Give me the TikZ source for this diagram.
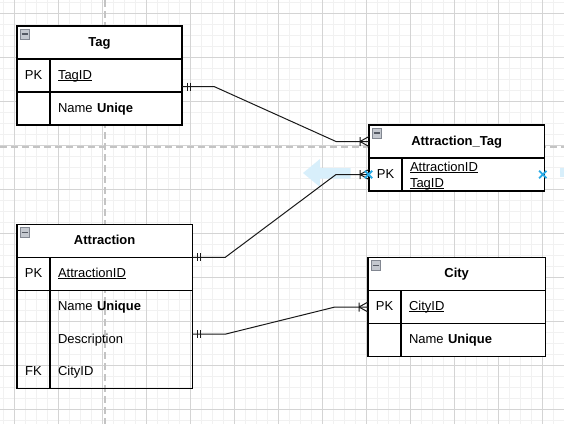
\documentclass[tikz,border=0pt]{standalone}
\usepackage{fontspec}
\setmainfont{Liberation Sans}
\newcommand\fs{\fontsize{13}{16}\selectfont}
\newcommand\uln[1]{\leavevmode\setbox0=\hbox{#1}\rlap{\rule[-1.8pt]{\wd0}{0.85pt}}\box0}
\definecolor{minorgrid}{RGB}{241,241,241}
\definecolor{majorgrid}{RGB}{212,212,212}
\definecolor{pagebreak}{RGB}{196,196,196}
\definecolor{hoverblue}{RGB}{41,170,230}
\definecolor{hoverlight}{RGB}{216,239,251}
\definecolor{iconfill}{RGB}{196,200,207}
\definecolor{iconedge}{RGB}{130,135,145}
\definecolor{icondash}{RGB}{85,90,100}
\tikzset{
  base/.style={inner sep=0pt, outer sep=0pt, anchor=north west, minimum height=33pt,
    text height=9pt, text depth=2pt, font=\fs},
  tbox/.style={base, draw=black, line width=1.2pt, fill=white},
  titlebox/.style={tbox, font=\fs\bfseries, minimum width=#1},
  keybox/.style={tbox, minimum width=33pt},
  fieldbox/.style={tbox, inner xsep=8pt, text width=#1, align=left},
  fieldtext/.style={base, inner xsep=8pt, text width=#1, align=left},
  keytext/.style={base, minimum width=33pt},
  rel/.style={draw=black!90, line width=1pt},
  minorline/.style={draw=minorgrid, line width=1pt},
  majorline/.style={draw=majorgrid, line width=1pt},
  breakline/.style={draw=pagebreak, line width=2.2pt, dash pattern=on 7pt off 4pt},
  one/.pic={\draw[rel] (5,-4)--(5,4) (8,-4)--(8,4);},
  many/.pic={\draw[rel] (-9,-4.5)--(-9,4.5) (-9,0)--(0,-5) (-9,0)--(0,5);},
  collapse/.pic={\draw[draw=iconedge, fill=iconfill, line width=0.6pt] (0,0) rectangle (9.5,10);
    \draw[draw=icondash, line width=1.6pt] (1.5,5)--(8,5);},
  hovercross/.pic={\draw[draw=hoverblue, line width=1.8pt] (-3.7,-3.7)--(3.7,3.7) (-3.7,3.7)--(3.7,-3.7);}
}
\begin{document}
\begin{tikzpicture}[x=1pt,y=-1pt]
\useasboundingbox (0,0) rectangle (564,424);
\fill[white] (0,0) rectangle (564,424);
% grid
\foreach \x in {3,14,...,563} \draw[minorline] (\x,0) -- (\x,424);
\foreach \y in {2,13,...,423} \draw[minorline] (0,\y) -- (564,\y);
\foreach \x in {14,58,...,542} \draw[majorline] (\x,0) -- (\x,424);
\foreach \y in {13,57,...,409} \draw[majorline] (0,\y) -- (564,\y);
\draw[breakline] (105,0) -- (105,424);
\draw[breakline] (0,147) -- (564,147);

% Tag
\node[titlebox=165pt] (tag) at (17,26) {Tag};
\node[keybox] (tagpkkey) at (17,59) {PK};
\node[fieldbox=116pt] (tagid) at (50,59) {\uln{TagID}};
\node[keybox] (tagnamekey) at (17,92) {};
\node[fieldbox=116pt] (tagname) at (50,92) {Name \textbf{Uniqe}};
\pic at ([xshift=3pt,yshift=-3pt]tag.north west) {collapse};

% Attraction_Tag
\node[titlebox=175.3pt] (attag) at (369,125) {Attraction\_Tag};
\node[keybox] (atpkkey) at (369,158) {PK};
\node[fieldbox=126.3pt, text depth=15.3pt] (atpk) at (402,158) {\uln{AttractionID}\\\uln{TagID}};
\pic at ([xshift=3pt,yshift=-3pt]attag.north west) {collapse};

% Attraction
\node[titlebox=175.3pt] (attr) at (17,224.3) {Attraction};
\node[keybox, minimum height=33.2pt] (attrpkkey) at (17,257.3) {PK};
\node[fieldbox=126.3pt, minimum height=33.2pt] (attrpk) at (50,257.3) {\uln{AttractionID}};
\node[keybox, fill=none, minimum height=98pt] (attrkeys) at (17,290.5) {};
\node[fieldbox=126.3pt, fill=none, minimum height=98pt] (attrfields) at (50,290.5) {};
\node[fieldtext=126.3pt, minimum height=32.7pt] (attrname) at (50,290.5) {Name \textbf{Unique}};
\node[fieldtext=126.3pt, minimum height=32.7pt] (desc) at (50,323.2) {Description};
\node[fieldtext=126.3pt, minimum height=32.7pt] (cityid) at (50,355.9) {CityID};
\node[keytext, minimum height=32.7pt] (fk) at (17,355.9) {FK};
\pic at ([xshift=3pt,yshift=-3pt]attr.north west) {collapse};

% City
\node[titlebox=177.3pt] (city) at (368,257.3) {City};
\node[keybox] (citypkkey) at (368,290.5) {PK};
\node[fieldbox=128.3pt] (citypk) at (401,290.5) {\uln{CityID}};
\node[keybox] (citynamekey) at (368,323.5) {};
\node[fieldbox=128.3pt] (cityname) at (401,323.5) {Name \textbf{Unique}};
\pic at ([xshift=3pt,yshift=-3pt]city.north west) {collapse};

% hover arrows
\fill[hoverlight] (303,173) -- (320,159) -- (320,168) -- (350.5,168) -- (350.5,178.5)
  -- (320,178.5) -- (320,187) -- cycle;
\fill[hoverlight] (560,168.3) rectangle (564,177.3);

% connectors
\draw[rel] ([yshift=5.5pt]tagid.south east) -- ++(32,0) -- ([xshift=-33pt]attag.west) -- (attag.west);
\pic at ([yshift=5.5pt]tagid.south east) {one};
\pic at (attag.west) {many};

\draw[rel] (attr.south east) -- ++(33,0) -- ([xshift=-33pt]atpkkey.west) -- (atpkkey.west);
\pic at (attr.south east) {one};
\pic at (atpkkey.west) {many};

\draw[rel] ([yshift=5.4pt]desc.east) -- ++(33,0) -- ([xshift=-33pt]citypkkey.west) -- (citypkkey.west);
\pic at ([yshift=5.4pt]desc.east) {one};
\pic at (citypkkey.west) {many};

% hover crosses
\pic at ([xshift=-0.5pt]atpkkey.west) {hovercross};
\pic at ([xshift=-1.5pt]atpk.east) {hovercross};
\end{tikzpicture}
\end{document}
